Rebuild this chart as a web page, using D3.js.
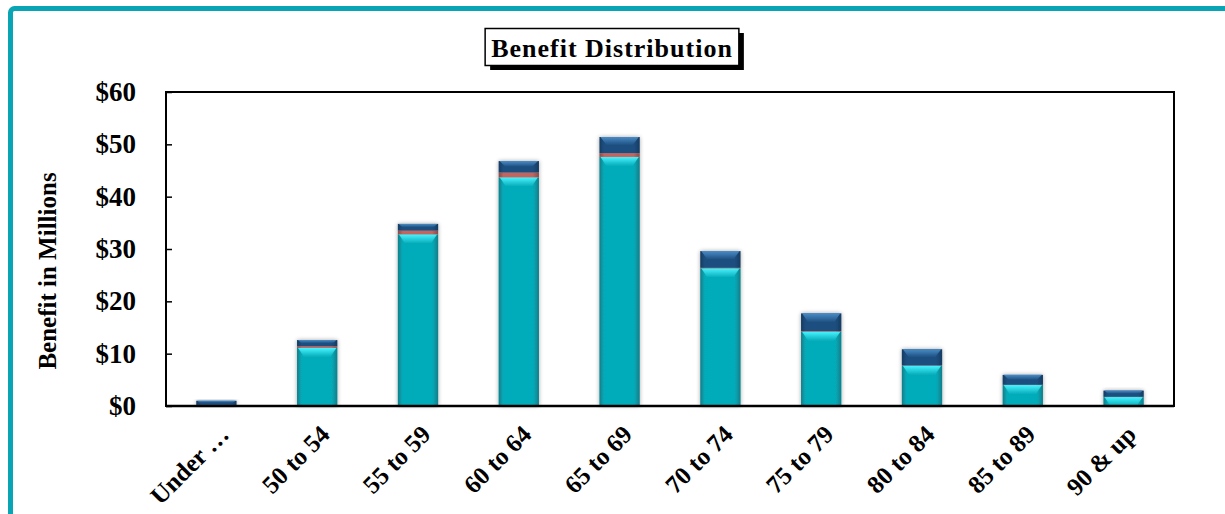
<!DOCTYPE html>
<html>
<head>
<meta charset="utf-8">
<script src="https://cdn.jsdelivr.net/npm/d3@7"></script>
<style>
  body { margin: 0; background: #fff; }
  svg { display: block; }
  text { font-family: "Liberation Serif", "Times New Roman", serif; font-weight: bold; fill: #000; }
</style>
</head>
<body>
<div id="chart"></div>
<script>
// datos
const categories = ["Under …", "50 to 54", "55 to 59", "60 to 64", "65 to 69", "70 to 74", "75 to 79", "80 to 84", "85 to 89", "90 & up"];
const mainValues = [0.1, 11.1, 32.8, 43.7, 47.6, 26.3, 14.2, 7.7, 4.0, 1.7];
const redValues  = [0.1, 0.3, 0.7, 0.9, 0.7, 0.1, 0.1, 0.05, 0.05, 0.05];
const blueValues = [0.8, 1.2, 1.3, 2.2, 3.1, 3.2, 3.4, 3.1, 1.9, 1.2];
const yTicks = [0, 10, 20, 30, 40, 50, 60];

const svgWidth = 1225, svgHeight = 514;
const margin = { top: 92, right: 51, bottom: 108, left: 166 };
const chartWidth = svgWidth - margin.left - margin.right;
const chartHeight = svgHeight - margin.top - margin.bottom;

const svg = d3.select("#chart").append("svg")
  .attr("width", svgWidth)
  .attr("height", svgHeight);

const defs = svg.append("defs");

// gradiente horizontal para dar volumen
function hGrad(id, edge, mid) {
  const g = defs.append("linearGradient").attr("id", id).attr("x1", 0).attr("x2", 1).attr("y1", 0).attr("y2", 0);
  g.append("stop").attr("offset", "0%").attr("stop-color", edge);
  g.append("stop").attr("offset", "12%").attr("stop-color", mid);
  g.append("stop").attr("offset", "85%").attr("stop-color", mid);
  g.append("stop").attr("offset", "100%").attr("stop-color", edge);
}
hGrad("gMain", "#0a7f8b", "#06acba");
hGrad("gRed", "#8a4a48", "#c7625c");
hGrad("gBlue", "#163c62", "#1d4f80");

function vGrad(id, top, bottom) {
  const g = defs.append("linearGradient").attr("id", id).attr("x1", 0).attr("x2", 0).attr("y1", 0).attr("y2", 1);
  g.append("stop").attr("offset", "0%").attr("stop-color", top).attr("stop-opacity", 1);
  g.append("stop").attr("offset", "100%").attr("stop-color", bottom).attr("stop-opacity", 0);
}
vGrad("hMain", "#48f4ff", "#48f4ff");
vGrad("hBlue", "#4a8cc6", "#4a8cc6");

const shadow = defs.append("filter").attr("id", "barShadow")
  .attr("x", "-20%").attr("y", "-20%").attr("width", "140%").attr("height", "140%");
shadow.append("feGaussianBlur").attr("in", "SourceAlpha").attr("stdDeviation", 2);
shadow.append("feComponentTransfer").append("feFuncA").attr("type", "linear").attr("slope", 0.35);
const fm = shadow.append("feMerge");
fm.append("feMergeNode");
fm.append("feMergeNode").attr("in", "SourceGraphic");

// marco exterior
svg.append("rect")
  .attr("x", 10.5).attr("y", 8.5)
  .attr("width", 1300).attr("height", 600)
  .attr("rx", 4)
  .attr("fill", "none")
  .attr("stroke", "#0aa5b5")
  .attr("stroke-width", 5);

const chartGroup = svg.append("g")
  .attr("transform", `translate(${margin.left}, ${margin.top})`);

// escalas
const xScale = d3.scaleBand()
  .domain(categories)
  .range([0, chartWidth])
  .paddingInner(0.6)
  .paddingOuter(0.3);

const yScale = d3.scaleLinear()
  .domain([0, 60])
  .range([chartHeight, 0]);

// ejes
const yAxis = d3.axisLeft(yScale)
  .tickValues(yTicks)
  .tickSizeInner(-6)
  .tickSizeOuter(0)
  .tickPadding(30)
  .tickFormat(d => "$" + d);

chartGroup.append("g")
  .attr("class", "y-axis")
  .call(yAxis)
  .call(g => g.select(".domain").remove())
  .call(g => g.selectAll("line").attr("stroke", "#000").attr("stroke-width", 1.5))
  .call(g => g.selectAll("text").attr("font-size", "27px").attr("fill", "#000")
    .attr("font-family", "Liberation Serif, serif").attr("font-weight", "bold"));

// caja del area de trazado
chartGroup.append("rect")
  .attr("x", 0).attr("y", 0)
  .attr("width", chartWidth).attr("height", chartHeight)
  .attr("fill", "none")
  .attr("stroke", "#000")
  .attr("stroke-width", 2);

// series apiladas
const rows = categories.map((c, i) => ({ cat: c, main: mainValues[i], red: redValues[i], blue: blueValues[i] }));
const stack = d3.stack().keys(["main", "red", "blue"])(rows);
const fills = { main: "url(#gMain)", red: "url(#gRed)", blue: "url(#gBlue)" };
const hilite = { main: "url(#hMain)", blue: "url(#hBlue)" };

const bw = xScale.bandwidth();
const barGroups = chartGroup.append("g").selectAll("g.bar")
  .data(categories)
  .enter()
  .append("g")
  .attr("class", "bar")
  .attr("filter", "url(#barShadow)");

stack.forEach(layer => {
  const key = layer.key;
  layer.forEach((d, i) => {
    const x0 = xScale(categories[i]);
    const yTop = yScale(d[1]);
    const yBot = yScale(d[0]);
    const h = yBot - yTop;
    const g = d3.select(barGroups.nodes()[i]);
    g.append("rect")
      .attr("x", x0).attr("y", yTop)
      .attr("width", bw).attr("height", Math.max(h, 0))
      .attr("fill", fills[key]);
    if (hilite[key] && h > 2) {
      const hh = Math.min(key === "main" ? 9 : h * 0.5, h);
      const ins = Math.min(6, hh);
      g.append("path")
        .attr("d", `M${x0 + 1},${yTop} L${x0 + bw - 1},${yTop} L${x0 + bw - 1 - ins},${yTop + hh} L${x0 + 1 + ins},${yTop + hh} Z`)
        .attr("fill", hilite[key]);
    }
  });
});

// linea base
chartGroup.append("line")
  .attr("x1", 0).attr("x2", chartWidth)
  .attr("y1", chartHeight).attr("y2", chartHeight)
  .attr("stroke", "#000").attr("stroke-width", 2.5);

// etiquetas del eje x
chartGroup.append("g").selectAll("text")
  .data(categories)
  .enter()
  .append("text")
  .attr("transform", d => `translate(${xScale(d) + bw / 2 + 14}, ${chartHeight + 30}) rotate(-45)`)
  .attr("text-anchor", "end")
  .attr("font-size", "25px")
  .text(d => d);

// titulo del eje y
svg.append("text")
  .attr("transform", `translate(56, 271) rotate(-90)`)
  .attr("text-anchor", "middle")
  .attr("font-size", "25px")
  .text("Benefit in Millions");

// titulo con caja y sombra
const title = svg.append("g");
const titleText = title.append("text")
  .attr("x", 612).attr("y", 57)
  .attr("text-anchor", "middle")
  .attr("font-size", "26px")
  .attr("letter-spacing", "1px")
  .text("Benefit Distribution");
const tw = titleText.node().getComputedTextLength();
const bx = 612 - tw / 2 - 6, bwid = tw + 12;
title.insert("rect", "text")
  .attr("x", bx + 5).attr("y", 33).attr("width", bwid).attr("height", 37)
  .attr("fill", "#000");
title.insert("rect", "text")
  .attr("x", bx).attr("y", 28.5).attr("width", bwid).attr("height", 37)
  .attr("fill", "#fff").attr("stroke", "#000").attr("stroke-width", 1.5);
</script>
</body>
</html>
